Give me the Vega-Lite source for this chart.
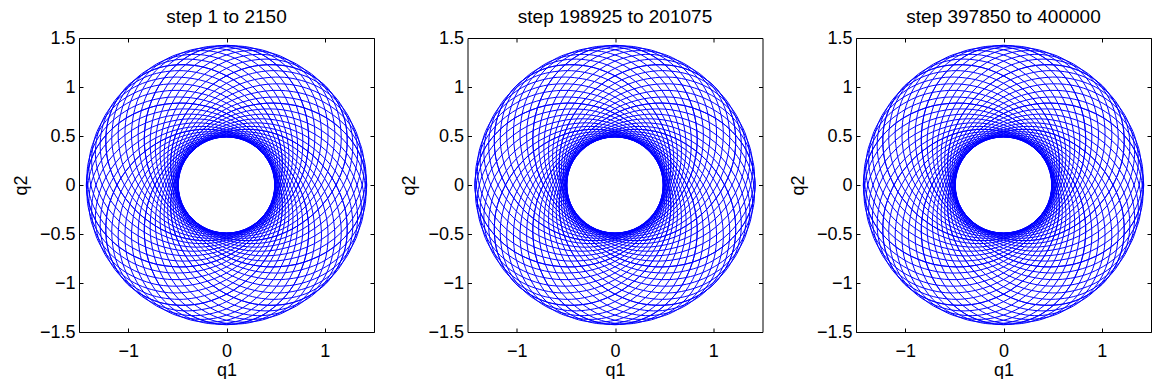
{
"$schema": "https://vega.github.io/schema/vega-lite/v6.json",
"padding": {"left": 12, "top": 8, "right": 0, "bottom": 0},
"spacing": 93.5,
"bounds": "flush",
"datasets": {"orb": [
{"n":0,"x":0.49,"y":0},{"n":0,"x":0.479,"y":0.128},{"n":0,"x":0.444,"y":0.256},{"n":0,"x":0.383,"y":0.383},{"n":0,"x":0.293,"y":0.508},{"n":0,"x":0.168,"y":0.625},{"n":0,"x":0,"y":0.729},{"n":0,"x":-0.216,"y":0.806},{"n":0,"x":-0.482,"y":0.836},{"n":0,"x":-0.788,"y":0.788},{"n":0,"x":-1.094,"y":0.632},{"n":0,"x":-1.333,"y":0.357},{"n":0,"x":-1.425,"y":0},{"n":0,"x":-1.333,"y":-0.357},{"n":0,"x":-1.094,"y":-0.632},{"n":0,"x":-0.788,"y":-0.788},{"n":0,"x":-0.482,"y":-0.836},{"n":0,"x":-0.216,"y":-0.806},{"n":0,"x":0,"y":-0.729},{"n":0,"x":0.168,"y":-0.625},{"n":0,"x":0.293,"y":-0.508},{"n":0,"x":0.383,"y":-0.383},{"n":0,"x":0.444,"y":-0.256},{"n":0,"x":0.479,"y":-0.128},
{"n":1,"x":0.486,"y":0.064},{"n":1,"x":0.458,"y":0.19},{"n":1,"x":0.407,"y":0.312},{"n":1,"x":0.33,"y":0.43},{"n":1,"x":0.224,"y":0.542},{"n":1,"x":0.085,"y":0.642},{"n":1,"x":-0.095,"y":0.723},{"n":1,"x":-0.319,"y":0.771},{"n":1,"x":-0.587,"y":0.765},{"n":1,"x":-0.884,"y":0.678},{"n":1,"x":-1.167,"y":0.484},{"n":1,"x":-1.368,"y":0.18},{"n":1,"x":-1.413,"y":-0.186},{"n":1,"x":-1.275,"y":-0.528},{"n":1,"x":-1.002,"y":-0.769},{"n":1,"x":-0.678,"y":-0.884},{"n":1,"x":-0.369,"y":-0.891},{"n":1,"x":-0.109,"y":-0.828},{"n":1,"x":0.095,"y":-0.723},{"n":1,"x":0.248,"y":-0.598},{"n":1,"x":0.357,"y":-0.465},{"n":1,"x":0.43,"y":-0.33},{"n":1,"x":0.474,"y":-0.196},{"n":1,"x":0.491,"y":-0.065},
{"n":2,"x":0.473,"y":0.127},{"n":2,"x":0.429,"y":0.248},{"n":2,"x":0.362,"y":0.362},{"n":2,"x":0.271,"y":0.469},{"n":2,"x":0.152,"y":0.566},{"n":2,"x":0,"y":0.647},{"n":2,"x":-0.189,"y":0.704},{"n":2,"x":-0.417,"y":0.723},{"n":2,"x":-0.682,"y":0.682},{"n":2,"x":-0.965,"y":0.557},{"n":2,"x":-1.22,"y":0.327},{"n":2,"x":-1.38,"y":0},{"n":2,"x":-1.376,"y":-0.369},{"n":2,"x":-1.195,"y":-0.69},{"n":2,"x":-0.893,"y":-0.893},{"n":2,"x":-0.557,"y":-0.965},{"n":2,"x":-0.25,"y":-0.932},{"n":2,"x":0,"y":-0.835},{"n":2,"x":0.189,"y":-0.704},{"n":2,"x":0.324,"y":-0.561},{"n":2,"x":0.414,"y":-0.414},{"n":2,"x":0.469,"y":-0.271},{"n":2,"x":0.495,"y":-0.133},{"n":2,"x":0.496,"y":0},
{"n":3,"x":0.453,"y":0.188},{"n":3,"x":0.393,"y":0.302},{"n":3,"x":0.312,"y":0.407},{"n":3,"x":0.207,"y":0.501},{"n":3,"x":0.077,"y":0.581},{"n":3,"x":-0.085,"y":0.642},{"n":3,"x":-0.279,"y":0.674},{"n":3,"x":-0.508,"y":0.662},{"n":3,"x":-0.765,"y":0.587},{"n":3,"x":-1.029,"y":0.426},{"n":3,"x":-1.253,"y":0.165},{"n":3,"x":-1.368,"y":-0.18},{"n":3,"x":-1.317,"y":-0.545},{"n":3,"x":-1.095,"y":-0.84},{"n":3,"x":-0.769,"y":-1.002},{"n":3,"x":-0.426,"y":-1.029},{"n":3,"x":-0.126,"y":-0.957},{"n":3,"x":0.109,"y":-0.828},{"n":3,"x":0.279,"y":-0.674},{"n":3,"x":0.394,"y":-0.514},{"n":3,"x":0.465,"y":-0.357},{"n":3,"x":0.501,"y":-0.207},{"n":3,"x":0.508,"y":-0.067},{"n":3,"x":0.491,"y":0.065},
{"n":4,"x":0.424,"y":0.245},{"n":4,"x":0.35,"y":0.35},{"n":4,"x":0.256,"y":0.444},{"n":4,"x":0.14,"y":0.524},{"n":4,"x":0,"y":0.586},{"n":4,"x":-0.168,"y":0.625},{"n":4,"x":-0.365,"y":0.632},{"n":4,"x":-0.59,"y":0.59},{"n":4,"x":-0.836,"y":0.482},{"n":4,"x":-1.076,"y":0.288},{"n":4,"x":-1.264,"y":0},{"n":4,"x":-1.333,"y":-0.357},{"n":4,"x":-1.234,"y":-0.712},{"n":4,"x":-0.976,"y":-0.976},{"n":4,"x":-0.632,"y":-1.094},{"n":4,"x":-0.288,"y":-1.076},{"n":4,"x":0,"y":-0.965},{"n":4,"x":0.216,"y":-0.806},{"n":4,"x":0.365,"y":-0.632},{"n":4,"x":0.458,"y":-0.458},{"n":4,"x":0.508,"y":-0.293},{"n":4,"x":0.524,"y":-0.14},{"n":4,"x":0.513,"y":0},{"n":4,"x":0.479,"y":0.128},
{"n":5,"x":0.389,"y":0.298},{"n":5,"x":0.302,"y":0.393},{"n":5,"x":0.196,"y":0.474},{"n":5,"x":0.071,"y":0.537},{"n":5,"x":-0.077,"y":0.581},{"n":5,"x":-0.248,"y":0.598},{"n":5,"x":-0.444,"y":0.579},{"n":5,"x":-0.662,"y":0.508},{"n":5,"x":-0.891,"y":0.369},{"n":5,"x":-1.104,"y":0.145},{"n":5,"x":-1.253,"y":-0.165},{"n":5,"x":-1.275,"y":-0.528},{"n":5,"x":-1.131,"y":-0.867},{"n":5,"x":-0.84,"y":-1.095},{"n":5,"x":-0.484,"y":-1.167},{"n":5,"x":-0.145,"y":-1.104},{"n":5,"x":0.126,"y":-0.957},{"n":5,"x":0.319,"y":-0.771},{"n":5,"x":0.444,"y":-0.579},{"n":5,"x":0.514,"y":-0.394},{"n":5,"x":0.542,"y":-0.224},{"n":5,"x":0.537,"y":-0.071},{"n":5,"x":0.508,"y":0.067},{"n":5,"x":0.458,"y":0.19},
{"n":6,"x":0.346,"y":0.346},{"n":6,"x":0.248,"y":0.429},{"n":6,"x":0.133,"y":0.495},{"n":6,"x":0,"y":0.542},{"n":6,"x":-0.152,"y":0.566},{"n":6,"x":-0.324,"y":0.561},{"n":6,"x":-0.516,"y":0.516},{"n":6,"x":-0.723,"y":0.417},{"n":6,"x":-0.932,"y":0.25},{"n":6,"x":-1.114,"y":0},{"n":6,"x":-1.22,"y":-0.327},{"n":6,"x":-1.195,"y":-0.69},{"n":6,"x":-1.008,"y":-1.008},{"n":6,"x":-0.69,"y":-1.195},{"n":6,"x":-0.327,"y":-1.22},{"n":6,"x":0,"y":-1.114},{"n":6,"x":0.25,"y":-0.932},{"n":6,"x":0.417,"y":-0.723},{"n":6,"x":0.516,"y":-0.516},{"n":6,"x":0.561,"y":-0.324},{"n":6,"x":0.566,"y":-0.152},{"n":6,"x":0.542,"y":0},{"n":6,"x":0.495,"y":0.133},{"n":6,"x":0.429,"y":0.248}
]},
"data": {"name": "orb"},
"config": {
  "view": {"stroke": null},
  "font": "Liberation Sans",
  "line": {"interpolate": "cardinal-closed", "color": "#0000ff", "strokeWidth": 1},
  "axis": {"domainColor": "black", "tickColor": "black", "labelColor": "black", "titleColor": "black", "labelFontSize": 18, "titleFontSize": 18, "titleFontWeight": "normal", "tickSize": -4, "grid": false, "labelFont": "Liberation Sans", "titleFont": "Liberation Sans", "labelFlush": false, "labelOverlap": false},
  "title": {"fontSize": 19, "fontWeight": "normal", "color": "black", "font": "Liberation Sans", "offset": 2}
},
"hconcat": [
{
 "title": {"text": "step 1 to 2150"},
 "width": 295, "height": 294,
 "encoding": {"detail": {"field": "n"}, "order": {"value": null}},
 "resolve": {"scale": {"x": "independent", "y": "independent"}},
 "layer": [
  {"mark": "line", "encoding": {"x": {"field": "x", "type": "quantitative", "scale": {"domain": [-1.5, 1.5], "nice": false, "zero": false}, "axis": {"values": [-1, 0, 1], "format": "~g", "title": "q1", "labelPadding": 14, "titlePadding": 1}}, "y": {"field": "y", "type": "quantitative", "scale": {"domain": [-1.5, 1.5], "nice": false, "zero": false}, "axis": {"values": [-1.5, -1, -0.5, 0, 0.5, 1, 1.5], "format": "~g", "title": "q2", "labelPadding": 8, "titlePadding": 9}}}},
  {"mark": "line", "encoding": {"x": {"field": "y", "type": "quantitative", "scale": {"domain": [-1.5, 1.5], "nice": false, "zero": false}, "axis": {"orient": "top", "values": [-1, 0, 1], "labels": false, "title": null}}, "y": {"field": "x", "type": "quantitative", "scale": {"domain": [-1.5, 1.5], "nice": false, "zero": false}, "axis": {"orient": "right", "values": [-1.5, -1, -0.5, 0, 0.5, 1, 1.5], "labels": false, "title": null}}}},
  {"mark": "line", "encoding": {"x": {"field": "x", "type": "quantitative", "scale": {"domain": [-1.5, 1.5], "nice": false, "zero": false, "reverse": true}, "axis": null}, "y": {"field": "y", "type": "quantitative", "scale": {"domain": [-1.5, 1.5], "nice": false, "zero": false}, "axis": null}}},
  {"mark": "line", "encoding": {"x": {"field": "y", "type": "quantitative", "scale": {"domain": [-1.5, 1.5], "nice": false, "zero": false, "reverse": true}, "axis": null}, "y": {"field": "x", "type": "quantitative", "scale": {"domain": [-1.5, 1.5], "nice": false, "zero": false}, "axis": null}}},
  {"mark": "line", "encoding": {"x": {"field": "x", "type": "quantitative", "scale": {"domain": [-1.5, 1.5], "nice": false, "zero": false}, "axis": null}, "y": {"field": "y", "type": "quantitative", "scale": {"domain": [-1.5, 1.5], "nice": false, "zero": false, "reverse": true}, "axis": null}}},
  {"mark": "line", "encoding": {"x": {"field": "y", "type": "quantitative", "scale": {"domain": [-1.5, 1.5], "nice": false, "zero": false}, "axis": null}, "y": {"field": "x", "type": "quantitative", "scale": {"domain": [-1.5, 1.5], "nice": false, "zero": false, "reverse": true}, "axis": null}}},
  {"mark": "line", "encoding": {"x": {"field": "x", "type": "quantitative", "scale": {"domain": [-1.5, 1.5], "nice": false, "zero": false, "reverse": true}, "axis": null}, "y": {"field": "y", "type": "quantitative", "scale": {"domain": [-1.5, 1.5], "nice": false, "zero": false, "reverse": true}, "axis": null}}},
  {"mark": "line", "encoding": {"x": {"field": "y", "type": "quantitative", "scale": {"domain": [-1.5, 1.5], "nice": false, "zero": false, "reverse": true}, "axis": null}, "y": {"field": "x", "type": "quantitative", "scale": {"domain": [-1.5, 1.5], "nice": false, "zero": false, "reverse": true}, "axis": null}}}
 ]
},
{
 "title": {"text": "step 198925 to 201075"},
 "width": 295, "height": 294,
 "encoding": {"detail": {"field": "n"}, "order": {"value": null}},
 "resolve": {"scale": {"x": "independent", "y": "independent"}},
 "layer": [
  {"mark": "line", "encoding": {"x": {"field": "x", "type": "quantitative", "scale": {"domain": [-1.5, 1.5], "nice": false, "zero": false}, "axis": {"values": [-1, 0, 1], "format": "~g", "title": "q1", "labelPadding": 14, "titlePadding": 1}}, "y": {"field": "y", "type": "quantitative", "scale": {"domain": [-1.5, 1.5], "nice": false, "zero": false}, "axis": {"values": [-1.5, -1, -0.5, 0, 0.5, 1, 1.5], "format": "~g", "title": "q2", "labelPadding": 8, "titlePadding": 9}}}},
  {"mark": "line", "encoding": {"x": {"field": "y", "type": "quantitative", "scale": {"domain": [-1.5, 1.5], "nice": false, "zero": false}, "axis": {"orient": "top", "values": [-1, 0, 1], "labels": false, "title": null}}, "y": {"field": "x", "type": "quantitative", "scale": {"domain": [-1.5, 1.5], "nice": false, "zero": false}, "axis": {"orient": "right", "values": [-1.5, -1, -0.5, 0, 0.5, 1, 1.5], "labels": false, "title": null}}}},
  {"mark": "line", "encoding": {"x": {"field": "x", "type": "quantitative", "scale": {"domain": [-1.5, 1.5], "nice": false, "zero": false, "reverse": true}, "axis": null}, "y": {"field": "y", "type": "quantitative", "scale": {"domain": [-1.5, 1.5], "nice": false, "zero": false}, "axis": null}}},
  {"mark": "line", "encoding": {"x": {"field": "y", "type": "quantitative", "scale": {"domain": [-1.5, 1.5], "nice": false, "zero": false, "reverse": true}, "axis": null}, "y": {"field": "x", "type": "quantitative", "scale": {"domain": [-1.5, 1.5], "nice": false, "zero": false}, "axis": null}}},
  {"mark": "line", "encoding": {"x": {"field": "x", "type": "quantitative", "scale": {"domain": [-1.5, 1.5], "nice": false, "zero": false}, "axis": null}, "y": {"field": "y", "type": "quantitative", "scale": {"domain": [-1.5, 1.5], "nice": false, "zero": false, "reverse": true}, "axis": null}}},
  {"mark": "line", "encoding": {"x": {"field": "y", "type": "quantitative", "scale": {"domain": [-1.5, 1.5], "nice": false, "zero": false}, "axis": null}, "y": {"field": "x", "type": "quantitative", "scale": {"domain": [-1.5, 1.5], "nice": false, "zero": false, "reverse": true}, "axis": null}}},
  {"mark": "line", "encoding": {"x": {"field": "x", "type": "quantitative", "scale": {"domain": [-1.5, 1.5], "nice": false, "zero": false, "reverse": true}, "axis": null}, "y": {"field": "y", "type": "quantitative", "scale": {"domain": [-1.5, 1.5], "nice": false, "zero": false, "reverse": true}, "axis": null}}},
  {"mark": "line", "encoding": {"x": {"field": "y", "type": "quantitative", "scale": {"domain": [-1.5, 1.5], "nice": false, "zero": false, "reverse": true}, "axis": null}, "y": {"field": "x", "type": "quantitative", "scale": {"domain": [-1.5, 1.5], "nice": false, "zero": false, "reverse": true}, "axis": null}}}
 ]
},
{
 "title": {"text": "step 397850 to 400000"},
 "width": 295, "height": 294,
 "encoding": {"detail": {"field": "n"}, "order": {"value": null}},
 "resolve": {"scale": {"x": "independent", "y": "independent"}},
 "layer": [
  {"mark": "line", "encoding": {"x": {"field": "x", "type": "quantitative", "scale": {"domain": [-1.5, 1.5], "nice": false, "zero": false}, "axis": {"values": [-1, 0, 1], "format": "~g", "title": "q1", "labelPadding": 14, "titlePadding": 1}}, "y": {"field": "y", "type": "quantitative", "scale": {"domain": [-1.5, 1.5], "nice": false, "zero": false}, "axis": {"values": [-1.5, -1, -0.5, 0, 0.5, 1, 1.5], "format": "~g", "title": "q2", "labelPadding": 8, "titlePadding": 9}}}},
  {"mark": "line", "encoding": {"x": {"field": "y", "type": "quantitative", "scale": {"domain": [-1.5, 1.5], "nice": false, "zero": false}, "axis": {"orient": "top", "values": [-1, 0, 1], "labels": false, "title": null}}, "y": {"field": "x", "type": "quantitative", "scale": {"domain": [-1.5, 1.5], "nice": false, "zero": false}, "axis": {"orient": "right", "values": [-1.5, -1, -0.5, 0, 0.5, 1, 1.5], "labels": false, "title": null}}}},
  {"mark": "line", "encoding": {"x": {"field": "x", "type": "quantitative", "scale": {"domain": [-1.5, 1.5], "nice": false, "zero": false, "reverse": true}, "axis": null}, "y": {"field": "y", "type": "quantitative", "scale": {"domain": [-1.5, 1.5], "nice": false, "zero": false}, "axis": null}}},
  {"mark": "line", "encoding": {"x": {"field": "y", "type": "quantitative", "scale": {"domain": [-1.5, 1.5], "nice": false, "zero": false, "reverse": true}, "axis": null}, "y": {"field": "x", "type": "quantitative", "scale": {"domain": [-1.5, 1.5], "nice": false, "zero": false}, "axis": null}}},
  {"mark": "line", "encoding": {"x": {"field": "x", "type": "quantitative", "scale": {"domain": [-1.5, 1.5], "nice": false, "zero": false}, "axis": null}, "y": {"field": "y", "type": "quantitative", "scale": {"domain": [-1.5, 1.5], "nice": false, "zero": false, "reverse": true}, "axis": null}}},
  {"mark": "line", "encoding": {"x": {"field": "y", "type": "quantitative", "scale": {"domain": [-1.5, 1.5], "nice": false, "zero": false}, "axis": null}, "y": {"field": "x", "type": "quantitative", "scale": {"domain": [-1.5, 1.5], "nice": false, "zero": false, "reverse": true}, "axis": null}}},
  {"mark": "line", "encoding": {"x": {"field": "x", "type": "quantitative", "scale": {"domain": [-1.5, 1.5], "nice": false, "zero": false, "reverse": true}, "axis": null}, "y": {"field": "y", "type": "quantitative", "scale": {"domain": [-1.5, 1.5], "nice": false, "zero": false, "reverse": true}, "axis": null}}},
  {"mark": "line", "encoding": {"x": {"field": "y", "type": "quantitative", "scale": {"domain": [-1.5, 1.5], "nice": false, "zero": false, "reverse": true}, "axis": null}, "y": {"field": "x", "type": "quantitative", "scale": {"domain": [-1.5, 1.5], "nice": false, "zero": false, "reverse": true}, "axis": null}}}
 ]
}
]
}
